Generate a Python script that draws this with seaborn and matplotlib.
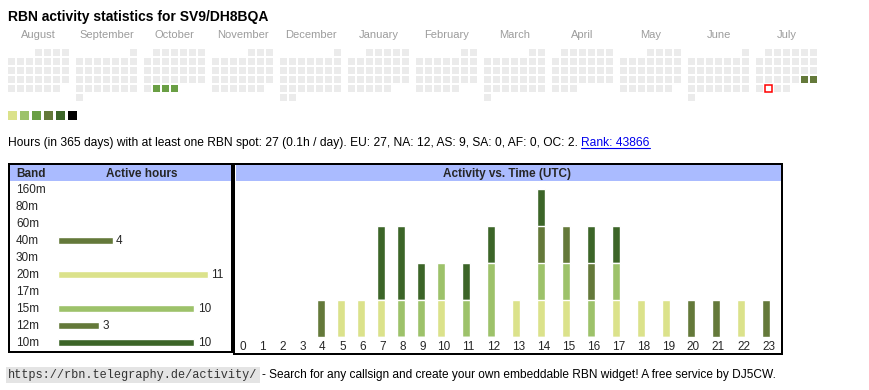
import calendar
import datetime as dt
import numpy as np
import matplotlib
matplotlib.use("Agg")
import matplotlib.pyplot as plt
from matplotlib.colors import ListedColormap
from matplotlib.patches import Rectangle
import seaborn as sns

# ---------------- data ----------------
callsign = "SV9/DH8BQA"
title = f"RBN activity statistics for {callsign}"
month_names = ["August", "September", "October", "November", "December", "January",
               "February", "March", "April", "May", "June", "July"]
first_year, first_month = 2024, 8
today = "2025-07-29"
active_dates = ["2024-10-29", "2024-10-30", "2024-10-31", "2025-07-26", "2025-07-27"]
active_levels = [3, 3, 3, 4, 4]
level_colors = ["#dbe28b", "#9dc26a", "#6a9f44", "#64793a", "#3c6528", "#000000"]
inactive_color = "#ebebeb"

summary = ("Hours (in 365 days) with at least one RBN spot: 27 (0.1h / day). "
           "EU: 27, NA: 12, AS: 9, SA: 0, AF: 0, OC: 2.")
rank_text = "Rank: 43866"

bands = ["160m", "80m", "60m", "40m", "30m", "20m", "17m", "15m", "12m", "10m"]
band_hours = [0, 0, 0, 4, 0, 11, 0, 10, 3, 10]
band_colors = {"160m": "#64793a", "80m": "#64793a", "60m": "#64793a", "40m": "#64793a",
               "30m": "#64793a", "20m": "#dbe28b", "17m": "#9dc26a", "15m": "#9dc26a",
               "12m": "#64793a", "10m": "#3c6528"}

hours = list(range(24))
# stacked bottom -> top
stack_bands = ["40m", "20m", "15m", "12m", "10m"]
hour_40m = [0, 0, 0, 0, 1, 0, 0, 0, 0, 0, 0, 0, 0, 0, 0, 0, 0, 0, 0, 0, 1, 1, 0, 1]
hour_20m = [0, 0, 0, 0, 0, 1, 1, 1, 0, 0, 1, 0, 0, 1, 1, 1, 0, 1, 1, 1, 0, 0, 1, 0]
hour_15m = [0, 0, 0, 0, 0, 0, 0, 0, 1, 1, 1, 1, 2, 0, 1, 1, 1, 1, 0, 0, 0, 0, 0, 0]
hour_12m = [0, 0, 0, 0, 0, 0, 0, 0, 0, 0, 0, 0, 0, 0, 1, 1, 1, 0, 0, 0, 0, 0, 0, 0]
hour_10m = [0, 0, 0, 0, 0, 0, 0, 2, 2, 1, 0, 1, 1, 0, 1, 0, 1, 1, 0, 0, 0, 0, 0, 0]

footer_url = "https://rbn.telegraphy.de/activity/"
footer_text = "- Search for any callsign and create your own embeddable RBN widget! A free service by DJ5CW."

# ---------------- setup ----------------
sns.set_theme(style="white")
plt.rcParams["font.family"] = ["Liberation Sans", "DejaVu Sans"]
W, H = 870, 390
fig = plt.figure(figsize=(W / 100, H / 100), dpi=100)
bg = fig.add_axes([0, 0, 1, 1])
bg.set_xlim(0, W)
bg.set_ylim(H, 0)
bg.axis("off")
renderer = fig.canvas.get_renderer()
TXT = 8.5
CELL, PITCH = 7, 9


def px_axes(left, top, width, height):
    return fig.add_axes([left / W, 1 - (top + height) / H, width / W, height / H])


def fit_width(t, target):
    bb = t.get_window_extent(renderer)
    t.set_fontsize(t.get_fontsize() * target / bb.width)
    return t


# ---------------- title ----------------
t = bg.text(8, 21, title, fontsize=10.5, fontweight="bold", va="baseline", color="black")
fit_width(t, 262)

# ---------------- calendar ----------------
level_of = {dt.date.fromisoformat(d): l for d, l in zip(active_dates, active_levels)}
today_d = dt.date.fromisoformat(today)
cmap = ListedColormap([inactive_color] + level_colors)
gap_mask = np.ones((PITCH, PITCH), dtype=bool)
gap_mask[1:1 + CELL, 1:1 + CELL] = False
for i, name in enumerate(month_names):
    y = first_year + (first_month - 1 + i) // 12
    m = (first_month - 1 + i) % 12 + 1
    offset = dt.date(y, m, 1).weekday()
    ndays = calendar.monthrange(y, m)[1]
    mat = np.full((6, 7), np.nan)
    today_cell = None
    for d in range(1, ndays + 1):
        day = dt.date(y, m, d)
        r, c = (d - 1 + offset) // 7, day.weekday()
        mat[r, c] = level_of.get(day, 0)
        if day == today_d:
            today_cell = (r, c)
    # one heatmap cell per screen pixel, with a 2 px white gap round each day
    big = np.kron(mat, np.ones((PITCH, PITCH)))
    big[np.tile(gap_mask, mat.shape)] = np.nan
    left = 7 + 68 * i
    ax = px_axes(left, 48, 7 * PITCH, 6 * PITCH)
    sns.heatmap(big, ax=ax, cmap=cmap, vmin=-0.5, vmax=len(level_colors) + 0.5,
                cbar=False, xticklabels=False, yticklabels=False)
    ax.set_axis_off()
    if today_cell is not None:
        r, c = today_cell
        ax.add_patch(Rectangle((PITCH * c + 1, PITCH * r + 1), CELL, CELL,
                               facecolor="white", edgecolor="red", lw=1.1, zorder=5))
    bg.text(left + 31.5, 38.5, name, ha="center", va="baseline",
            color="#9c9c9c", fontsize=8)

for k, c in enumerate(level_colors):
    bg.add_patch(Rectangle((8 + 12 * k, 111), 9, 9, color=c, lw=0))

# ---------------- summary line ----------------
full = bg.text(8, 146, summary + " " + rank_text, fontsize=8, va="baseline")
fit_width(full, 640)
fs = full.get_fontsize()
full.remove()
s1 = bg.text(8, 146, summary + " ", fontsize=fs, va="baseline", color="black")
bb = s1.get_window_extent(renderer)
rk = bg.text(bb.x1, 146, rank_text, fontsize=fs, va="baseline", color="#0000ee")
rb = rk.get_window_extent(renderer)
bg.plot([rb.x0, rb.x1], [147.6, 147.6], color="#0000ee", lw=0.8)

# ---------------- boxes ----------------
bg.add_patch(Rectangle((10, 165), 221, 16, color="#aabbff", lw=0))
bg.add_patch(Rectangle((236, 165), 545, 16, color="#aabbff", lw=0))
bg.add_patch(Rectangle((9, 164), 223, 188, fill=False, edgecolor="black", lw=1.44))
bg.add_patch(Rectangle((234.5, 164), 547.5, 190, fill=False, edgecolor="black", lw=1.44))
bg.text(16, 176.7, "Band", fontweight="bold", fontsize=TXT, va="baseline")
bg.text(141.5, 176.7, "Active hours", fontweight="bold", fontsize=TXT, va="baseline", ha="center")
bg.text(507.5, 176.7, "Activity vs. Time (UTC)", fontweight="bold", fontsize=TXT,
        va="baseline", ha="center")

# ---------------- band table ----------------
px_per_hour = 150 / max(band_hours)
axl = px_axes(58, 180.5, 165, 170)
sns.barplot(x=band_hours, y=bands, hue=bands, palette=band_colors, order=bands,
            hue_order=bands, orient="h", width=7 / 17, saturation=1, legend=False,
            errorbar=None, ax=axl)
axl.set_xlim(0, 165 / px_per_hour)
axl.set_ylim(len(bands) - 0.5, -0.5)
axl.axis("off")
for i, (b, v) in enumerate(zip(bands, band_hours)):
    base = 189 + 17 * i + 4.3
    bg.text(16, base, b, fontsize=TXT, va="baseline")
    if v > 0:
        bg.text(58 + v * px_per_hour + 3.5, base, str(v), fontsize=TXT, va="baseline")

# ---------------- hour chart ----------------
col_w = np.array([20 if h < 10 else 25 for h in hours])
col_left = 231 + np.cumsum(col_w) - col_w
bar_x = col_left + 10
label_x = col_left + col_w / 2

layers = [hour_40m, hour_20m, hour_15m, hour_12m, hour_10m]
cums = np.cumsum(np.array(layers), axis=0)
axh = px_axes(236, 336.7 - 4 * 37, 545, 4 * 37)
for k in reversed(range(len(stack_bands))):
    sns.barplot(x=bar_x, y=cums[k], native_scale=True, orient="x",
                color=band_colors[stack_bands[k]], saturation=1, width=0.4,
                errorbar=None, ax=axh)
axh.set_xlim(236, 781)
axh.set_ylim(0, 4)
axh.axis("off")
for h, lx in zip(hours, label_x):
    bg.text(lx + (1.5 if h < 10 else 0), 349.6, str(h), fontsize=TXT, va="baseline", ha="center")

# ---------------- footer ----------------
u = bg.text(8, 378, footer_url, family=["Liberation Mono", "DejaVu Sans Mono"],
            fontsize=8.5, va="baseline", color="#333333")
fit_width(u, 248)
u.set_bbox(dict(boxstyle="square,pad=0.2", facecolor="#e4e4e4", edgecolor="none"))
ft = bg.text(262, 378, footer_text, fontsize=8, va="baseline", color="black")
fit_width(ft, 521)

fig.savefig("out.png", dpi=100)
